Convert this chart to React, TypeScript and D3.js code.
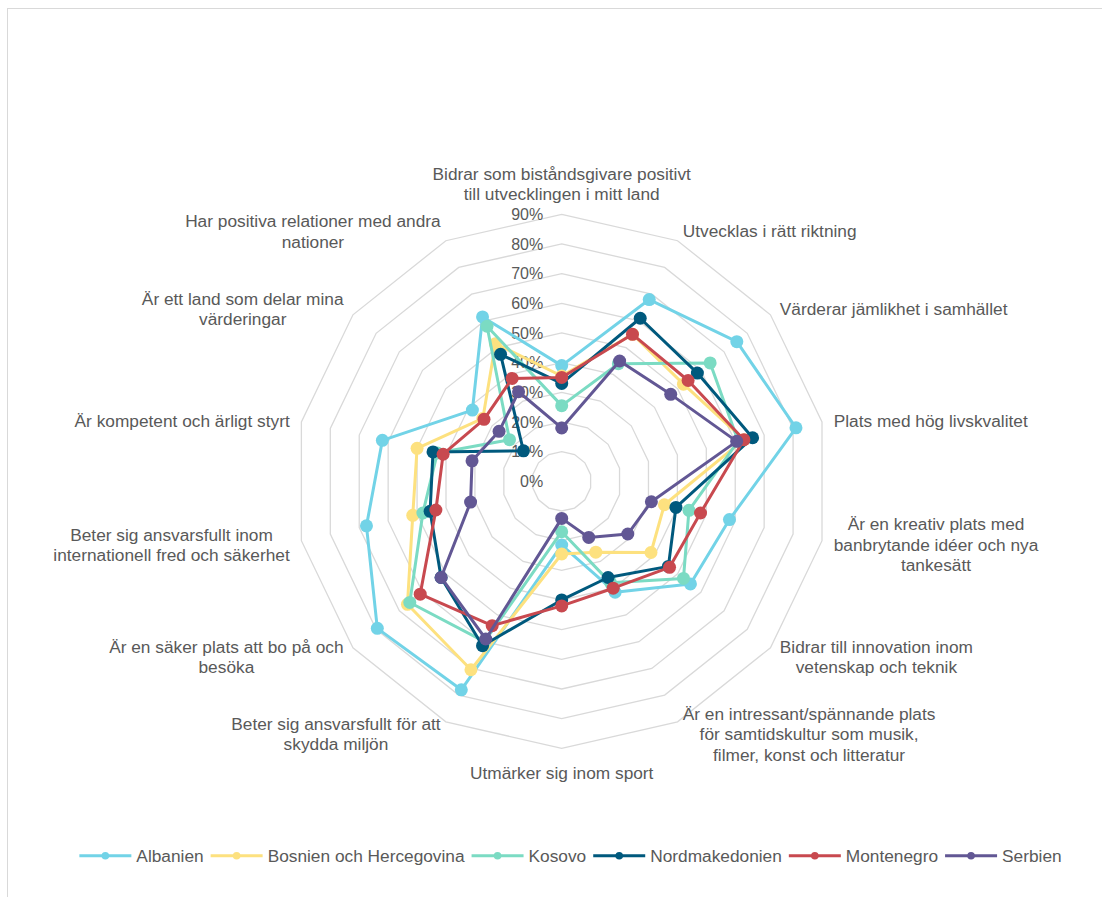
import * as d3 from 'd3';
import React, { useRef, useEffect } from 'react';

const categories = [
  'Bidrar som biståndsgivare positivt\ntill utvecklingen i mitt land',
  'Utvecklas i rätt riktning',
  'Värderar jämlikhet i samhället',
  'Plats med hög livskvalitet',
  'Är en kreativ plats med\nbanbrytande idéer och nya\ntankesätt',
  'Bidrar till innovation inom\nvetenskap och teknik',
  'Är en intressant/spännande plats\nför samtidskultur som musik,\nfilmer, konst och litteratur',
  'Utmärker sig inom sport',
  'Beter sig ansvarsfullt för att\nskydda miljön',
  'Är en säker plats att bo på och\nbesöka',
  'Beter sig ansvarsfullt inom\ninternationell fred och säkerhet',
  'Är kompetent och ärligt styrt',
  'Är ett land som delar mina\nvärderingar',
  'Har positiva relationer med andra\nnationer',
];

const seriesNames = ['Albanien', 'Bosnien och Hercegovina', 'Kosovo', 'Nordmakedonien', 'Montenegro', 'Serbien'];
const seriesColors = ['#72d3e7', '#fde17f', '#7bdbc3', '#00597d', '#c8494f', '#625794'];

// share in percent, one value per category (clockwise from the top)
const albanien = [39, 68, 75.5, 81, 58, 55.5, 41.5, 21.5, 78, 79.5, 67.5, 62, 38.5, 61.5];
const bosnien = [35.5, 55, 52.5, 63, 35.5, 38.5, 26.5, 24.5, 70.5, 66.5, 51.5, 50, 34, 51.5];
const kosovo = [25.5, 44, 64, 61, 44, 52.5, 38, 17, 60, 65.5, 48, 43, 22.5, 58];
const nordmakedonien = [33, 61, 58.5, 66, 39.5, 46, 36, 40, 61.5, 52, 45.5, 44.5, 16.5, 47.5];
const montenegro = [35, 55, 54.5, 63, 48, 46.5, 40, 42, 54, 61, 43.5, 41, 33.5, 38.5];
const serbien = [18, 45, 47, 60.5, 31, 28.5, 21, 12.5, 59, 52, 31.5, 31, 27, 33.5];

const seriesValues = [albanien, bosnien, kosovo, nordmakedonien, montenegro, serbien];

const tickValues = [0, 10, 20, 30, 40, 50, 60, 70, 80, 90];
const tickLabels = ['0%', '10%', '20%', '30%', '40%', '50%', '60%', '70%', '80%', '90%'];

const FONT = "'Liberation Sans', Arial, sans-serif";
const TEXT = '#595959';
const GRID = '#d9d9d9';

const App: React.FC = () => {
  const ref = useRef<SVGSVGElement>(null);

  useEffect(() => {
    if (!ref.current) return;
    const width = 1102;
    const height = 897;
    const cx = 561.7;
    const cy = 481.3;

    const svg = d3.select(ref.current);
    svg.selectAll('*').remove();
    svg.attr('width', width).attr('height', height);

    // chart frame
    svg.append('rect')
      .attr('x', 7.5).attr('y', 8.5)
      .attr('width', 1200).attr('height', 1000)
      .attr('fill', '#fff')
      .attr('stroke', GRID)
      .attr('stroke-width', 1);

    const n = categories.length;
    const angle = (i: number) => (i * 2 * Math.PI) / n;
    const r = d3.scaleLinear().domain([0, 90]).range([0, 267]);

    const g = svg.append('g').attr('transform', `translate(${cx},${cy})`);

    const radial = d3.lineRadial<number>()
      .angle((_, i) => angle(i))
      .radius(d => r(d))
      .curve(d3.curveLinearClosed);

    // rings
    g.selectAll('.ring')
      .data(tickValues.filter(t => t > 0))
      .enter()
      .append('path')
      .attr('d', t => radial(categories.map(() => t)))
      .attr('fill', 'none')
      .attr('stroke', GRID)
      .attr('stroke-width', 1.3);

    // tick labels
    g.selectAll('.tick')
      .data(tickValues)
      .enter()
      .append('text')
      .attr('x', -18.5)
      .attr('y', t => -r(t))
      .attr('dy', '0.35em')
      .attr('text-anchor', 'end')
      .attr('font-family', FONT)
      .attr('font-size', 16)
      .attr('fill', TEXT)
      .text((_, i) => tickLabels[i]);

    // category labels
    const lineH = 20.5;
    const gap = 12;
    categories.forEach((label, i) => {
      const a = angle(i);
      const s = Math.sin(a);
      const c = -Math.cos(a);
      const px = (r(90) + gap) * s;
      const py = (r(90) + gap) * c;
      const lines = label.split('\n');
      const t = g.append('text')
        .attr('font-family', FONT)
        .attr('font-size', 17.3)
        .attr('fill', TEXT)
        .attr('text-anchor', 'middle');
      const spans = lines.map(l => t.append('tspan').text(l));
      const w = Math.max(...spans.map(sp => (sp.node() as SVGTSpanElement).getComputedTextLength()));
      const h = lines.length * lineH;
      let boxCx: number;
      let boxTop: number;
      if (Math.abs(s) < 0.01) {
        boxCx = px;
        boxTop = c < 0 ? py - h + 2 : py + 2;
      } else {
        boxCx = s > 0 ? px + w / 2 : px - w / 2;
        boxTop = py - h / 2 + 1.5;
      }
      spans.forEach((sp, k) => {
        sp.attr('x', boxCx)
          .attr('y', boxTop + (k + 0.5) * lineH)
          .attr('dy', '0.35em');
      });
    });

    // series
    seriesValues.forEach((vals, si) => {
      const color = seriesColors[si];
      g.append('path')
        .attr('d', radial(vals))
        .attr('fill', 'none')
        .attr('stroke', color)
        .attr('stroke-width', 3)
        .attr('stroke-linejoin', 'round');
      g.selectAll(`.m${si}`)
        .data(vals)
        .enter()
        .append('circle')
        .attr('cx', (d, i) => r(d) * Math.sin(angle(i)))
        .attr('cy', (d, i) => -r(d) * Math.cos(angle(i)))
        .attr('r', 6.5)
        .attr('fill', color);
    });

    // legend
    const legendY = 855.7;
    const lineLen = 52;
    const legend = svg.append('g');
    const items = seriesNames.map((name, i) => {
      const item = legend.append('g');
      item.append('line')
        .attr('x1', 0).attr('x2', lineLen)
        .attr('y1', 0).attr('y2', 0)
        .attr('stroke', seriesColors[i])
        .attr('stroke-width', 3);
      item.append('circle')
        .attr('cx', lineLen / 2).attr('cy', 0)
        .attr('r', 3.8)
        .attr('fill', seriesColors[i]);
      const txt = item.append('text')
        .attr('x', lineLen + 5)
        .attr('y', 0)
        .attr('dy', '0.35em')
        .attr('font-family', FONT)
        .attr('font-size', 17.3)
        .attr('fill', TEXT)
        .text(name);
      const tw = (txt.node() as SVGTextElement).getComputedTextLength();
      return { item, w: lineLen + 5 + tw };
    });
    const spacing = 7;
    const total = d3.sum(items, d => d.w) + spacing * (items.length - 1);
    let x = 570.5 - total / 2;
    items.forEach(d => {
      d.item.attr('transform', `translate(${x},${legendY})`);
      x += d.w + spacing;
    });
  }, []);

  return (
    <svg ref={ref} style={{ position: 'absolute', left: 0, top: 0, display: 'block' }} />
  );
};

export default App;
